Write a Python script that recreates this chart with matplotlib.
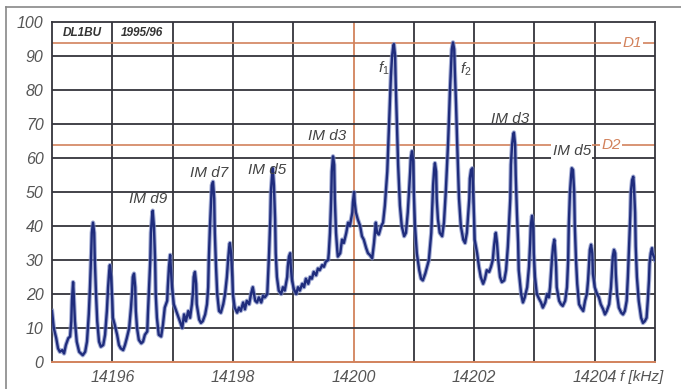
import numpy as np
import matplotlib
matplotlib.use("Agg")
import matplotlib.pyplot as plt
from matplotlib.lines import Line2D

plt.rcParams['font.family'] = ['Liberation Sans', 'DejaVu Sans']
plt.rcParams['mathtext.fontset'] = 'custom'
plt.rcParams['mathtext.it'] = 'Liberation Sans:italic'
plt.rcParams['mathtext.rm'] = 'Liberation Sans'

# spectrum trace: frequency [kHz] and level [dB]
freq = [14195.00, 14195.03, 14195.07, 14195.10, 14195.13, 14195.17, 14195.20, 14195.23, 14195.27, 14195.30,
        14195.32, 14195.33, 14195.35, 14195.36, 14195.38, 14195.41, 14195.45, 14195.48, 14195.51, 14195.55,
        14195.58, 14195.61, 14195.63, 14195.65, 14195.66, 14195.68, 14195.70, 14195.71, 14195.73, 14195.75,
        14195.78, 14195.81, 14195.85, 14195.88, 14195.91, 14195.93, 14195.95, 14195.96, 14195.98, 14196.00,
        14196.01, 14196.04, 14196.08, 14196.11, 14196.14, 14196.18, 14196.21, 14196.24, 14196.28, 14196.31,
        14196.33, 14196.34, 14196.36, 14196.38, 14196.39, 14196.41, 14196.44, 14196.48, 14196.51, 14196.54,
        14196.58, 14196.59, 14196.61, 14196.63, 14196.64, 14196.66, 14196.67, 14196.69, 14196.71, 14196.72,
        14196.74, 14196.77, 14196.81, 14196.84, 14196.87, 14196.91, 14196.92, 14196.94, 14196.96, 14196.97,
        14196.99, 14197.02, 14197.06, 14197.09, 14197.12, 14197.16, 14197.19, 14197.22, 14197.26, 14197.29,
        14197.32, 14197.34, 14197.35, 14197.37, 14197.39, 14197.40, 14197.44, 14197.47, 14197.50, 14197.54,
        14197.57, 14197.59, 14197.60, 14197.62, 14197.64, 14197.65, 14197.67, 14197.69, 14197.70, 14197.72,
        14197.74, 14197.77, 14197.80, 14197.84, 14197.87, 14197.90, 14197.92, 14197.94, 14197.95, 14197.97,
        14197.99, 14198.00, 14198.03, 14198.07, 14198.10, 14198.13, 14198.17, 14198.20, 14198.23, 14198.27,
        14198.30, 14198.33, 14198.37, 14198.40, 14198.43, 14198.47, 14198.50, 14198.53, 14198.57, 14198.58,
        14198.60, 14198.62, 14198.63, 14198.65, 14198.66, 14198.68, 14198.70, 14198.71, 14198.73, 14198.76,
        14198.80, 14198.83, 14198.86, 14198.90, 14198.91, 14198.93, 14198.95, 14198.96, 14198.98, 14199.01,
        14199.05, 14199.08, 14199.11, 14199.15, 14199.18, 14199.21, 14199.25, 14199.28, 14199.31, 14199.34,
        14199.38, 14199.41, 14199.44, 14199.48, 14199.51, 14199.54, 14199.58, 14199.59, 14199.61, 14199.63,
        14199.64, 14199.66, 14199.68, 14199.69, 14199.71, 14199.73, 14199.74, 14199.78, 14199.81, 14199.84,
        14199.88, 14199.91, 14199.94, 14199.98, 14199.99, 14200.01, 14200.02, 14200.04, 14200.07, 14200.11,
        14200.14, 14200.17, 14200.21, 14200.24, 14200.27, 14200.31, 14200.34, 14200.37, 14200.39, 14200.42,
        14200.46, 14200.49, 14200.52, 14200.56, 14200.59, 14200.62, 14200.64, 14200.66, 14200.67, 14200.69,
        14200.70, 14200.72, 14200.74, 14200.77, 14200.80, 14200.84, 14200.87, 14200.90, 14200.94, 14200.95,
        14200.97, 14200.99, 14201.00, 14201.02, 14201.05, 14201.09, 14201.12, 14201.15, 14201.19, 14201.22,
        14201.25, 14201.29, 14201.32, 14201.34, 14201.35, 14201.37, 14201.38, 14201.40, 14201.43, 14201.47,
        14201.50, 14201.53, 14201.57, 14201.60, 14201.62, 14201.63, 14201.65, 14201.67, 14201.68, 14201.70,
        14201.72, 14201.75, 14201.78, 14201.82, 14201.85, 14201.88, 14201.92, 14201.93, 14201.95, 14201.97,
        14201.98, 14202.00, 14202.01, 14202.05, 14202.08, 14202.11, 14202.15, 14202.18, 14202.21, 14202.25,
        14202.28, 14202.31, 14202.33, 14202.35, 14202.36, 14202.38, 14202.40, 14202.43, 14202.46, 14202.50,
        14202.53, 14202.56, 14202.60, 14202.61, 14202.63, 14202.65, 14202.66, 14202.68, 14202.69, 14202.71,
        14202.73, 14202.74, 14202.78, 14202.81, 14202.84, 14202.88, 14202.91, 14202.93, 14202.94, 14202.96,
        14202.98, 14202.99, 14203.01, 14203.04, 14203.08, 14203.11, 14203.14, 14203.18, 14203.21, 14203.24,
        14203.26, 14203.29, 14203.31, 14203.33, 14203.34, 14203.36, 14203.37, 14203.41, 14203.44, 14203.47,
        14203.51, 14203.54, 14203.56, 14203.57, 14203.59, 14203.61, 14203.62, 14203.64, 14203.66, 14203.67,
        14203.69, 14203.71, 14203.74, 14203.77, 14203.81, 14203.84, 14203.87, 14203.89, 14203.91, 14203.92,
        14203.94, 14203.96, 14203.97, 14204.00, 14204.04, 14204.07, 14204.10, 14204.14, 14204.17, 14204.20,
        14204.24, 14204.27, 14204.29, 14204.30, 14204.32, 14204.34, 14204.35, 14204.37, 14204.40, 14204.44,
        14204.47, 14204.50, 14204.53, 14204.55, 14204.57, 14204.59, 14204.60, 14204.62, 14204.64, 14204.65,
        14204.67, 14204.68, 14204.70, 14204.73, 14204.77, 14204.80, 14204.83, 14204.86, 14204.88, 14204.90,
        14204.91, 14204.93, 14204.95, 14204.96, 14204.98, 14205.00]

level = [15, 10, 7, 4, 3, 3.5, 2.5, 5, 7, 7.5,
         12, 18, 23.5, 20, 12, 6, 3, 2.5, 2, 3,
         6, 14, 22, 32, 38, 41, 38, 30, 20, 12,
         6, 4.5, 5, 8, 15, 22, 27, 28.5, 25, 18,
         13, 11, 8, 5, 4, 3.5, 5, 7, 10, 16,
         21, 25, 26, 22, 15, 10, 6.5, 5.5, 6, 8,
         9, 14, 22, 30, 38, 43, 44.5, 40, 30, 20,
         13, 8, 7.5, 11, 16, 18, 22, 28, 31.5, 28,
         22, 17, 15, 13.5, 12, 10, 14, 12, 15, 13,
         17, 21, 25, 26.5, 23, 17, 12.5, 11.5, 12, 14,
         17, 22, 30, 40, 48, 52, 53, 48, 38, 28,
         20, 15, 14.5, 17, 20, 25, 30, 34, 35, 32,
         25, 20, 16, 14.5, 16, 15, 17.5, 15.5, 18, 17,
         20, 22, 18, 17.5, 19, 17.5, 19.5, 19, 20, 24,
         32, 42, 50, 55, 57, 52, 42, 32, 25, 21,
         20, 22, 21, 25, 28, 31, 32, 28, 24, 21.5,
         20, 22, 21, 23, 22, 24.5, 23, 25, 24.5, 26.5,
         25.5, 27.5, 27, 28.5, 28, 29.5, 30, 32, 38, 48,
         56, 60.5, 58, 48, 38, 33, 31, 32, 36, 35,
         38, 41, 40, 44, 47, 50, 47, 44, 42, 40,
         37, 36, 33.5, 32, 31.5, 30.5, 35, 41, 38, 37.5,
         40, 41, 46, 56, 70, 84, 90, 93, 93.5, 90,
         82, 70, 58, 46, 40, 37, 38, 44, 56, 60,
         62, 59, 50, 40, 32, 27, 24.5, 24, 26, 28,
         30, 38, 52, 57, 58.5, 56, 48, 42, 38, 37,
         41, 50, 65, 80, 88, 92, 94, 92, 86, 76,
         64, 48, 40, 36, 35, 38, 48, 54, 56.5, 57,
         52, 42, 36, 32, 28, 25, 23, 24.5, 27, 26.5,
         28, 30, 34, 37, 38, 35, 30, 25, 23.5, 24,
         27, 34, 48, 58, 64, 67, 67.5, 64, 55, 44,
         35, 27, 20, 17.5, 19, 22, 28, 35, 40, 43,
         40, 32, 25, 20, 18.5, 17.5, 16, 17.5, 20, 19,
         22, 30, 34, 36, 34, 28, 22, 18, 17, 16.5,
         18, 22, 30, 40, 50, 55, 57, 56.5, 50, 40,
         30, 23, 17, 16, 15, 18, 20, 24, 30, 33,
         34.5, 32, 26, 22, 20, 19, 17, 15.5, 14, 15,
         17, 22, 28, 31, 33, 32, 26, 20, 16, 14.5,
         14, 15, 18, 25, 34, 43, 50, 53.5, 54.5, 52,
         44, 34, 25, 18, 13, 11.5, 12, 13, 18, 24,
         29, 32, 33.5, 32, 31, 30]

x_ticks = [14196, 14198, 14200, 14202, 14204]
y_ticks = [0, 10, 20, 30, 40, 50, 60, 70, 80, 90, 100]
d1_level = 93.8
d2_level = 63.8
center_freq = 14200

# (text, freq, level)
peak_labels = [
    ('IM d9', 14196.59, 47.8),
    ('IM d7', 14197.60, 55.6),
    ('IM d5', 14198.57, 56.5),
    ('IM d3', 14199.56, 66.6),
    ('$f_1$', 14200.51, 86.5),
    ('$f_2$', 14201.86, 86.0),
    ('IM d3', 14202.60, 71.5),
]

GRID = '#34343c'
ORANGE = '#d2825c'
TRACE = '#1f2c7c'
TXT = '#555555'

fig = plt.figure(figsize=(6.81, 3.89), dpi=100)
ax = fig.add_axes([52 / 681, 1 - 362 / 389, 603 / 681, 340 / 389])

ax.set_xlim(14195, 14205)
ax.set_ylim(0, 100)

# grid
for f in range(14196, 14205):
    c = ORANGE if f == center_freq else GRID
    ax.axvline(f, color=c, lw=1.3, zorder=1)
for y in y_ticks[1:-1]:
    ax.axhline(y, color=GRID, lw=1.3, zorder=1)
ax.axhline(d1_level, color=ORANGE, lw=1.2, zorder=1.5)
ax.axhline(d2_level, color=ORANGE, lw=1.2, zorder=1.5)

for s in ['left', 'right', 'top']:
    ax.spines[s].set_color(GRID)
    ax.spines[s].set_linewidth(1.3)
ax.spines['bottom'].set_color(ORANGE)
ax.spines['bottom'].set_linewidth(1.4)

# trace
ax.plot(freq, level, color='#7f8cc4', lw=3.2, alpha=0.7, zorder=3, solid_joinstyle='round')
ax.plot(freq, level, color=TRACE, lw=1.7, zorder=4, solid_joinstyle='round')

ax.set_xticks(x_ticks)
ax.set_xticklabels([str(t) for t in x_ticks])
ax.set_yticks(y_ticks)
ax.tick_params(length=0, labelsize=11.5, labelcolor=TXT, pad=6)
for lab in ax.get_xticklabels() + ax.get_yticklabels():
    lab.set_style('italic')
ax.text(14204.42, -4.3, 'f [kHz]', fontsize=11, style='italic', color=TXT,
        ha='left', va='center', clip_on=False)

# header cells
ax.text(14195.50, 96.7, 'DL1BU', fontsize=8.5, style='italic', weight='bold', color='#333333',
        ha='center', va='center')
ax.text(14196.49, 96.7, '1995/96', fontsize=8.5, style='italic', weight='bold', color='#333333',
        ha='center', va='center')

for txt, f, y in peak_labels:
    ax.text(f, y, txt, fontsize=11, style='italic', color='#444444', ha='center', va='center', zorder=5)

white = dict(facecolor='white', edgecolor='none', pad=1.0)
ax.text(14203.62, 62.0, 'IM d5', fontsize=11, style='italic', color='#444444',
        ha='center', va='center', bbox=white, zorder=5)
ax.text(14204.27, d2_level, 'D2', fontsize=11, style='italic', color=ORANGE,
        ha='center', va='center', bbox=white, zorder=5)
ax.text(14204.62, d1_level, 'D1', fontsize=11, style='italic', color=ORANGE,
        ha='center', va='center', bbox=white, zorder=5)

# picture frame
fig.add_artist(Line2D([6 / 681, 6 / 681], [0, 1 - 7 / 389], color='#888888', lw=1.2))
fig.add_artist(Line2D([6 / 681, 1], [1 - 7 / 389, 1 - 7 / 389], color='#888888', lw=1.2))

fig.savefig('out.png', dpi=100)
